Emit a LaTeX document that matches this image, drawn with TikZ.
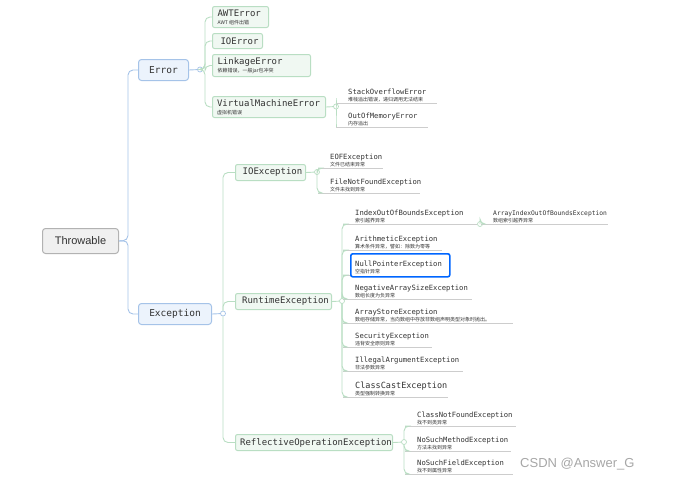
\documentclass[tikz,border=0pt]{standalone}
\usepackage{fontspec}
\setmainfont{Liberation Sans}
\setmonofont{DejaVu Sans Mono}
\newfontfamily\cjk{Noto Sans CJK SC}
\definecolor{gline}{RGB}{185,222,195}
\definecolor{gfill}{RGB}{240,248,242}
\definecolor{bline}{RGB}{165,195,232}
\definecolor{bfill}{RGB}{236,243,252}
\definecolor{uline}{RGB}{205,205,205}
\definecolor{txt}{RGB}{50,50,50}
\begin{document}
\begin{tikzpicture}[x=1pt,y=-1pt,
 box/.style={draw=gline,fill=gfill,rounded corners=2pt,line width=1pt,anchor=north west,inner sep=0pt,align=left,text=txt},
 bbox/.style={draw=bline,fill=bfill,rounded corners=3pt,line width=1pt,anchor=north west,inner sep=0pt,text=txt,font=\ttfamily\fontsize{9.5}{10}\selectfont},
 conn/.style={draw=gline,line width=0.9pt,rounded corners=5pt},
 bconn/.style={draw=bline,line width=0.9pt,rounded corners=5pt},
 ul/.style={draw=uline,line width=0.8pt},
 junc/.style={circle,draw=gline,fill=white,inner sep=0pt,minimum size=5pt,line width=0.7pt},
 bjunc/.style={circle,draw=bline,fill=white,inner sep=0pt,minimum size=5pt,line width=0.7pt},
 lt/.style={anchor=south west,inner sep=0pt,align=left,text=txt,font=\ttfamily\fontsize{7.2}{8}\selectfont}]
\useasboundingbox (0,0) rectangle (692,482);
\newcommand\sub[1]{\\[-1pt]{\cjk\fontsize{5}{5}\selectfont #1}}
% leaf: name, x, y(underline), xend, title, sub
\newcommand\leaf[6]{\coordinate (#1) at (#2,#3); \coordinate (#1e) at (#4,#3);
 \node[lt] (#1t) at (#2+12,#3-1) {#5\sub{#6}}; \draw[ul] (#1) -- (#1e);}
% main
\node[draw=gray!60,fill=gray!12,rounded corners=3pt,line width=1pt,anchor=north west,minimum width=76,minimum height=25,inner sep=0pt,text=txt,font=\fontsize{11}{12}\selectfont] (thr) at (42,228) {Throwable};
\node[bbox,minimum width=50,minimum height=21] (err) at (138,59) {Error};
\node[bbox,minimum width=73,minimum height=21] (exc) at (138,303) {Exception};
\draw[bconn] (thr.east) -- (128,240.5) |- (err.west);
\draw[bconn] (thr.east) -- (128,240.5) |- (exc.west);
% Error children
\tikzset{ef/.style={font=\ttfamily\fontsize{9}{9}\selectfont}}
\node[box,minimum width=56,minimum height=21] (awt) at (212,6) {\hspace{4pt}\parbox{50pt}{\ttfamily\fontsize{9}{9}\selectfont AWTError\sub{AWT 组件出错}}};
\node[box,minimum width=50,minimum height=15,ef] (ioer) at (212,33) {\hspace{4pt}IOError};
\node[box,minimum width=98,minimum height=22] (link) at (212,54) {\hspace{4pt}\parbox{92pt}{\ttfamily\fontsize{9}{9}\selectfont LinkageError\sub{依赖错误，一般jar包冲突}}};
\node[box,minimum width=113,minimum height=21] (vme) at (212,96) {\hspace{4pt}\parbox{108pt}{\ttfamily\fontsize{9}{9}\selectfont VirtualMachineError\sub{虚拟机错误}}};
\node[bjunc] (je) at (200,69.5) {};
\draw[bconn] (err.east) -- (je);
\foreach \c in {awt,ioer,link,vme}{\draw[conn] (je) -- (205,69.5) |- (\c.west);}
\node[junc] (jv) at (336,106.5) {};
\draw[conn] (vme.east) -- (jv);
\leaf{so}{336}{103}{437}{StackOverflowError}{堆栈溢出错误，递归调用无法结束}
\leaf{oom}{336}{127}{428}{OutOfMemoryError}{内存溢出}
\draw[conn] (jv) |- (so); \draw[conn] (jv) |- (oom);
% Exception children
\node[box,minimum width=70,minimum height=16,ef] (ioe) at (235,164) {\hspace{4pt}IOException};
\node[box,minimum width=96,minimum height=16,ef] (rte) at (235,293) {\hspace{4pt}RuntimeException};
\node[box,minimum width=157,minimum height=16,ef] (roe) at (235,434) {\hspace{4pt}ReflectiveOperationException};
\node[bjunc] (jx) at (223,313.5) {};
\draw[bconn] (exc.east) -- (jx);
\foreach \c in {ioe,rte,roe}{\draw[conn] (jx) |- (\c.west);}
% IOException
\node[junc] (ji) at (317,172) {};
\draw[conn] (ioe.east) -- (ji);
\leaf{eof}{318}{168}{383}{EOFException}{文件已结束异常}
\leaf{fnf}{318}{193}{420}{FileNotFoundException}{文件未找到异常}
\draw[conn] (ji) |- (eof); \draw[conn] (ji) |- (fnf);
% Runtime
\node[junc] (jr) at (342,301) {};
\draw[conn] (rte.east) -- (jr);
\leaf{ioob}{343}{224}{476}{IndexOutOfBoundsException}{索引越界异常}
\leaf{ari}{343}{250}{442}{ArithmeticException}{算术条件异常，譬如：除数为零等}
\leaf{npe}{343}{275}{350}{}{}
\node[lt] (npet) at (355,274) {NullPointerException\sub{空指针异常}};
\node[draw=blue!60!cyan,line width=1.6pt,rounded corners=2pt,minimum width=99,minimum height=23,anchor=north west,inner sep=0pt] (npeb) at (350,253) {};
\leaf{nas}{343}{299}{472}{NegativeArraySizeException}{数组长度为负异常}
\leaf{ase}{343}{323}{513}{ArrayStoreException}{数组存储异常，当向数组中存放非数组声明类型对象时抛出。}
\leaf{sec}{343}{347}{432}{SecurityException}{违背安全原则异常}
\leaf{iae}{343}{371}{463}{IllegalArgumentException}{非法参数异常}
\coordinate (cce) at (343,397); \draw[ul] (cce) -- (448,397);
\node[lt] (ccet) at (355,396) {{\fontsize{8.5}{9}\selectfont ClassCastException}\sub{类型强制转换异常}};
\foreach \c in {ioob,ari,npe,nas,ase,sec,iae,cce}{\draw[conn] (jr) |- (\c);}
\node[junc] (ja) at (480,224) {};
\leaf{aioob}{481}{224}{608}{{\fontsize{6.3}{7}\selectfont ArrayIndexOutOfBoundsException}}{数组索引越界异常}
\draw[ul] (ioobe) -- (ja); \draw[conn] (ja) |- (aioob);
% Reflective
\node[junc] (jf) at (404,442) {};
\draw[conn] (roe.east) -- (jf);
\leaf{cnf}{405}{426}{516}{ClassNotFoundException}{找不到类异常}
\leaf{nsm}{405}{451}{511}{NoSuchMethodException}{方法未找到异常}
\leaf{nsf}{405}{474}{513}{NoSuchFieldException}{找不到属性异常}
\foreach \c in {cnf,nsm,nsf}{\draw[conn] (jf) |- (\c);}
\node[anchor=west,text=gray!70,font=\fontsize{13}{14}\selectfont,inner sep=0pt] (wm) at (520,464) {CSDN @Answer\_G};
\end{tikzpicture}
\end{document}
